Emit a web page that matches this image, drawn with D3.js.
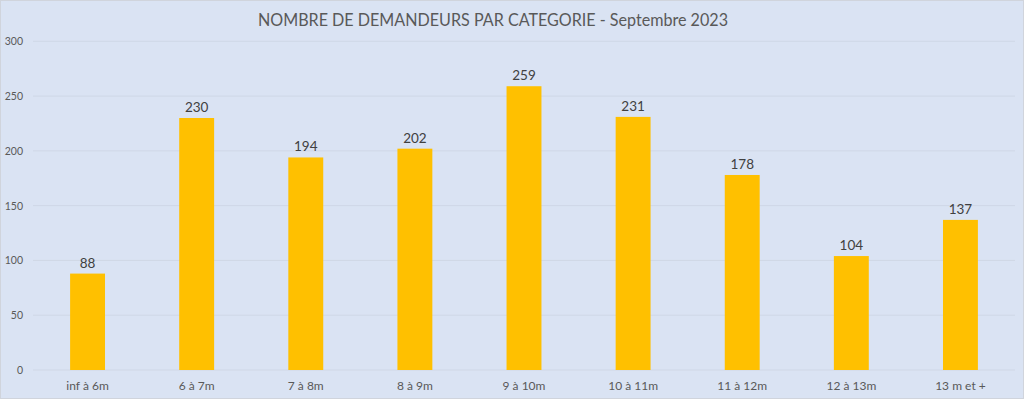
<!DOCTYPE html>
<html><head><meta charset="utf-8">
<script src="https://cdn.jsdelivr.net/npm/d3@7"></script>
<style>html,body{margin:0;padding:0;background:#fff}svg{display:block}</style>
</head><body>
<script>
const categories = ["inf à 6m","6 à 7m","7 à 8m","8 à 9m","9 à 10m","10 à 11m","11 à 12m","12 à 13m","13 m et +"];
const values = [88,230,194,202,259,231,178,104,137];
const yTicks = [0,50,100,150,200,250,300];
const title = "NOMBRE DE DEMANDEURS PAR CATEGORIE - Septembre 2023";

const W = 1024, H = 399;
const font = "Lato, 'Open Sans', sans-serif";
const svg = d3.select("body").append("svg").attr("width", W).attr("height", H);
svg.append("rect").attr("x",0.5).attr("y",0.5).attr("width",W-1).attr("height",H-1)
  .attr("fill","#dae3f3").attr("stroke","#d0d4dc");

const x = d3.scaleBand().domain(categories).range([33,1015]).paddingInner(0.68).paddingOuter(0.34);
const y = d3.scaleLinear().domain([0,300]).range([370,41.3]);

svg.append("g").selectAll("line").data(yTicks).join("line")
  .attr("x1",33).attr("x2",1015).attr("y1",d=>y(d)).attr("y2",d=>y(d))
  .attr("stroke","#cfd7e6").attr("stroke-width",1);

const ya = svg.append("g").attr("transform","translate(23,0)")
  .call(d3.axisLeft(y).tickValues(yTicks).tickSize(0).tickPadding(0));
ya.select(".domain").remove();
ya.selectAll("text").attr("font-family",font).attr("font-size",10.5).attr("fill","#595959");

const xa = svg.append("g").attr("transform","translate(0,370)")
  .call(d3.axisBottom(x).tickSize(0).tickPadding(11));
xa.select(".domain").remove();
xa.selectAll("text").attr("font-family",font).attr("font-size",12).attr("fill","#595959");

svg.append("g").selectAll("rect").data(values).join("rect")
  .attr("x",(d,i)=>x(categories[i])).attr("width",x.bandwidth())
  .attr("y",d=>y(d)).attr("height",d=>y(0)-y(d)).attr("fill","#ffc000");

svg.append("g").selectAll("text").data(values).join("text")
  .attr("x",(d,i)=>x(categories[i])+x.bandwidth()/2).attr("y",d=>y(d)-6)
  .attr("text-anchor","middle").attr("font-family",font).attr("font-size",13.5)
  .attr("fill","#404040").text(d=>d);

svg.append("text").attr("x",493).attr("y",26).attr("text-anchor","middle")
  .attr("font-family",font).attr("font-size",18).attr("fill","#595959")
  .attr("textLength",470).attr("lengthAdjust","spacingAndGlyphs").text(title);
</script>
</body></html>
